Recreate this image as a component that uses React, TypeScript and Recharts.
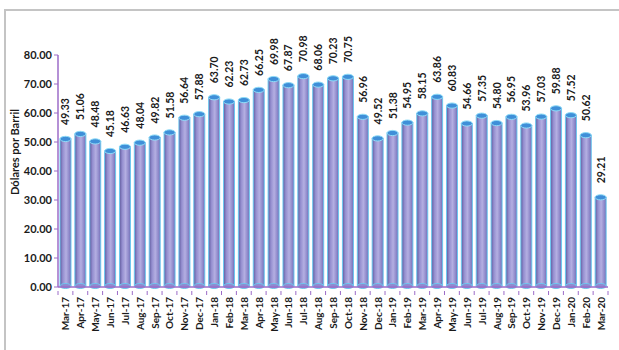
import React from 'react'
import { Bar, BarChart, LabelList, XAxis, YAxis } from 'recharts'

const months = [
  'Mar-17', 'Apr-17', 'May-17', 'Jun-17', 'Jul-17', 'Aug-17', 'Sep-17', 'Oct-17', 'Nov-17', 'Dec-17',
  'Jan-18', 'Feb-18', 'Mar-18', 'Apr-18', 'May-18', 'Jun-18', 'Jul-18', 'Aug-18', 'Sep-18', 'Oct-18',
  'Nov-18', 'Dec-18', 'Jan-19', 'Feb-19', 'Mar-19', 'Apr-19', 'May-19', 'Jun-19', 'Jul-19', 'Aug-19',
  'Sep-19', 'Oct-19', 'Nov-19', 'Dec-19', 'Jan-20', 'Feb-20', 'Mar-20',
]

const prices = [
  49.33, 51.06, 48.48, 45.18, 46.63, 48.04, 49.82, 51.58, 56.64, 57.88,
  63.7, 62.23, 62.73, 66.25, 69.98, 67.87, 70.98, 68.06, 70.23, 70.75,
  56.96, 49.52, 51.38, 54.95, 58.15, 63.86, 60.83, 54.66, 57.35, 54.8,
  56.95, 53.96, 57.03, 59.88, 57.52, 50.62, 29.21,
]

const yTicks = [0, 10, 20, 30, 40, 50, 60, 70, 80]

const data = months.map((m, i) => ({ month: m, price: prices[i] }))

const W = 619
const H = 350
const LEFT = 58
const RIGHT = 608
const BAND = (RIGHT - LEFT) / months.length
const LIFT = 5 // fake 3D offset, bars sit a bit higher than the value
const AXIS = '#9c6cc8'
const FONT = 'Lato, "Open Sans", sans-serif'

function Cylinder(props: any) {
  const { x, y, width, height } = props
  if (width == null || height == null) return null
  const cx = x + width / 2
  const rx = width / 2
  const top = y - LIFT
  const bottom = y + height - 1
  return (
    <g>
      <rect x={x} y={top} width={width} height={bottom - top} fill="url(#cyl)" stroke="#6cc8f0" strokeWidth={1} />
      <ellipse cx={cx} cy={bottom} rx={rx} ry={2.5} fill="#8f8ad0" stroke="#6cc8f0" strokeWidth={1} />
      <ellipse cx={cx} cy={top} rx={rx} ry={2.6} fill="#3f8fd8" stroke="#8ddcf8" strokeWidth={1} />
    </g>
  )
}

function ValueLabel(props: any) {
  const { x, y, width, value } = props
  const cx = x + width / 2
  const by = y - LIFT - 14
  return (
    <text
      x={cx}
      y={by}
      transform={`rotate(-90, ${cx}, ${by})`}
      textAnchor="start"
      dominantBaseline="central"
      fontFamily={FONT}
      fontWeight="bold"
      fontSize={10.5}
      fill="#1a1a1a"
    >
      {Number(value).toFixed(2)}
    </text>
  )
}

function MonthTick(props: any) {
  const { x, y, payload, index } = props
  const left = x - BAND / 2
  return (
    <g>
      <line x1={left} y1={y - 4} x2={left} y2={y} stroke={AXIS} strokeWidth={1} />
      {index === months.length - 1 && (
        <line x1={x + BAND / 2} y1={y - 4} x2={x + BAND / 2} y2={y} stroke={AXIS} strokeWidth={1} />
      )}
      <text
        x={x}
        y={y + 2}
        transform={`rotate(-90, ${x}, ${y + 2})`}
        textAnchor="end"
        dominantBaseline="central"
        fontFamily={FONT}
        fontWeight="bold"
        fontSize={10}
        fill="#1a1a1a"
      >
        {payload.value}
      </text>
    </g>
  )
}

function AxisTitle() {
  return (
    <text
      x={14}
      y={152}
      transform="rotate(-90, 14, 152)"
      textAnchor="middle"
      dominantBaseline="central"
      fontFamily={FONT}
      fontWeight="bold"
      fontSize={11}
      fill="#1a1a1a"
    >
      Dólares por Barril
    </text>
  )
}

export default function App() {
  return (
    <div style={{ position: 'fixed', left: 0, top: 0, width: W, height: H, overflow: 'hidden', background: '#fff' }}>
      <div
        style={{
          position: 'absolute',
          left: 4,
          top: 9,
          width: 700,
          height: 400,
          borderTop: '2px solid #c4c4c4',
          borderLeft: '2px solid #c4c4c4',
        }}
      />
      <div style={{ position: 'absolute', left: 0, top: 0 }}>
        <BarChart
          width={W}
          height={H}
          data={data}
          margin={{ top: 55, right: W - RIGHT, bottom: 3, left: 8 }}
          barSize={11}
        >
          <defs>
            <linearGradient id="cyl" x1="0" y1="0" x2="1" y2="0">
              <stop offset="0%" stopColor="#5f5a9c" />
              <stop offset="25%" stopColor="#948ecf" />
              <stop offset="55%" stopColor="#b4afe2" />
              <stop offset="85%" stopColor="#8c86c8" />
              <stop offset="100%" stopColor="#6f69b0" />
            </linearGradient>
          </defs>
          <XAxis
            dataKey="month"
            interval={0}
            height={60}
            axisLine={{ stroke: AXIS, strokeWidth: 1.5 }}
            tickLine={false}
            tick={<MonthTick />}
          />
          <YAxis
            width={50}
            domain={[0, 80]}
            ticks={yTicks}
            tickFormatter={(v: number) => v.toFixed(2)}
            axisLine={{ stroke: AXIS, strokeWidth: 1.5 }}
            tickLine={{ stroke: AXIS }}
            tickSize={4}
            tick={{ fontFamily: FONT, fontWeight: 'bold', fontSize: 11, fill: '#1a1a1a' }}
            label={<AxisTitle />}
          />
          <Bar dataKey="price" shape={<Cylinder />} isAnimationActive={false}>
            <LabelList dataKey="price" content={<ValueLabel />} />
          </Bar>
        </BarChart>
      </div>
    </div>
  )
}
